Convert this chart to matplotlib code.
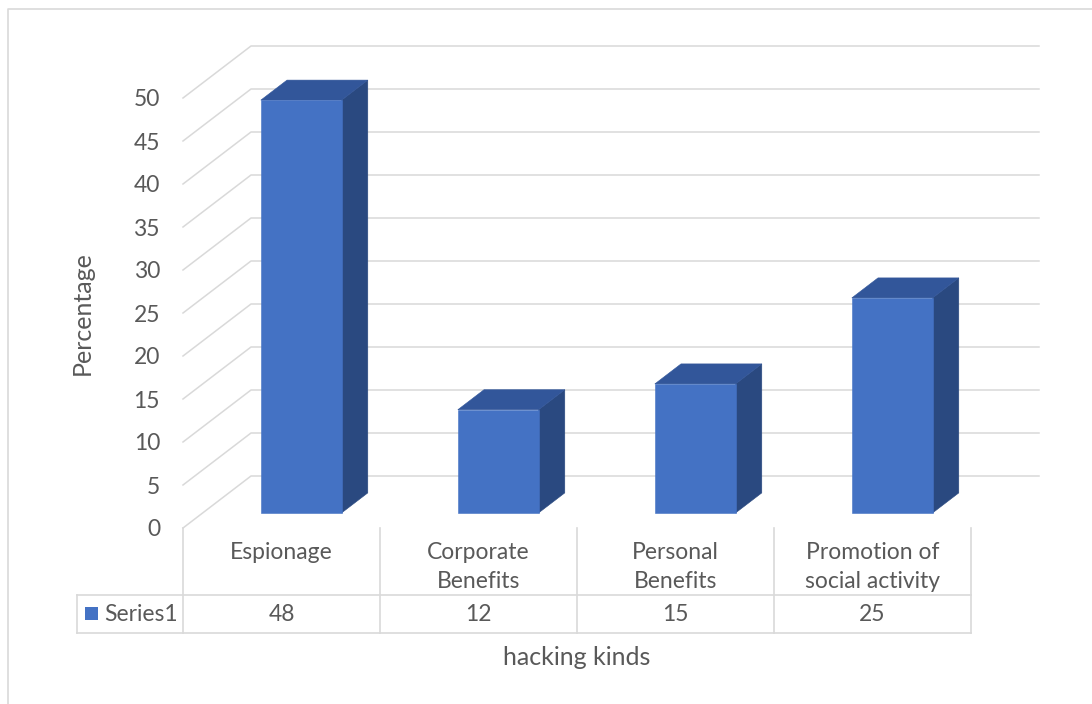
import matplotlib
matplotlib.use("Agg")
import matplotlib.pyplot as plt
from matplotlib.transforms import Affine2D, IdentityTransform, blended_transform_factory
from matplotlib.patches import Polygon, Rectangle
from matplotlib.lines import Line2D

# ---- data -------------------------------------------------------------
categories = ["Espionage", "Corporate\nBenefits", "Personal\nBenefits",
              "Promotion of\nsocial activity"]
values = [48, 12, 15, 25]
series_name = "Series1"
y_ticks = [0, 5, 10, 15, 20, 25, 30, 35, 40, 45, 50]
x_title = "hacking kinds"
y_title = "Percentage"

# ---- style ------------------------------------------------------------
FRONT = "#4472C4"
SIDE = "#2A4980"
TOP = "#32569A"
GRID = "#D9D9D9"
TEXT = "#595959"
FONT = "Lato"
FS = 16.5        # tick and table labels
FS_TITLE = 18    # axis titles

W, H, DPI = 1092, 704, 100
fig = plt.figure(figsize=(W / DPI, H / DPI), dpi=DPI)
fig.patch.set_facecolor("white")

# front plane of the plot area (pixel positions measured from the top-left)
left, right, base, top = 183, 971, 528, 98
ax = fig.add_axes([left / W, 1 - base / H, (right - left) / W, (base - top) / H])
ax.set_xlim(0, len(categories))
ax.set_ylim(y_ticks[0], y_ticks[-1])
ax.axis("off")

DEPTH = (68, 52)          # display offset from the front plane to the back wall
ident = IdentityTransform()
px = Affine2D().scale(1, -1).translate(0, H)   # pixel coords, origin top-left
x_px = blended_transform_factory(ax.transData, px)


def proj(x, y, d):
    """Project (category x, value y, depth d in 0..1) to display coords."""
    sx, sy = ax.transData.transform((x, y))
    return sx + DEPTH[0] * d, sy + DEPTH[1] * d


# chart outline
fig.add_artist(Line2D([8, 8, W], [H, 9, 9], transform=px, color=GRID, lw=1.2))

# walls: side-wall diagonals and back-wall gridlines, plus value labels
n = len(categories)
for v in y_ticks:
    p0, p1, p2 = proj(0, v, 0), proj(0, v, 1), proj(n, v, 1)
    fig.add_artist(Line2D([p0[0], p1[0], p2[0]], [p0[1], p1[1], p2[1]],
                          transform=ident, color=GRID, lw=1.1, zorder=1))
    fig.text(p0[0] - 23, p0[1] - 8.5, str(v), transform=ident, ha="right",
             va="baseline", fontsize=FS, color=TEXT, family=FONT)

# 3-D columns
d0, d1 = 0.29, 0.675
bw = 0.41
for i, v in enumerate(values):
    xa, xb = i + 0.5 - bw / 2, i + 0.5 + bw / 2
    side = [proj(xb, 0, d0), proj(xb, 0, d1), proj(xb, v, d1), proj(xb, v, d0)]
    cap = [proj(xa, v, d0), proj(xb, v, d0), proj(xb, v, d1), proj(xa, v, d1)]
    front = [proj(xa, 0, d0), proj(xb, 0, d0), proj(xb, v, d0), proj(xa, v, d0)]
    for pts, col in ((side, SIDE), (cap, TOP), (front, FRONT)):
        fig.add_artist(Polygon(pts, closed=True, transform=ident, facecolor=col,
                               edgecolor=col, lw=0.4, zorder=3))

# data table
row1, row2, row3 = 528, 595, 633
tab_left = 77
for k in range(n + 1):
    fig.add_artist(Line2D([k, k], [row1, row3], transform=x_px, color=GRID, lw=1.2))
x_end = ax.transData.transform((n, 0))[0]
for r in (row2, row3):
    fig.add_artist(Line2D([tab_left, x_end], [H - r, H - r], transform=ident,
                          color=GRID, lw=1.2))
fig.add_artist(Line2D([tab_left, tab_left], [row2, row3], transform=px, color=GRID, lw=1.2))

for i, (cat, v) in enumerate(zip(categories, values)):
    for j, line in enumerate(cat.split("\n")):
        fig.text(i + 0.5, 559 + 29 * j, line, transform=x_px, ha="center",
                 va="baseline", fontsize=FS, color=TEXT, family=FONT)
    fig.text(i + 0.5, 621, str(v), transform=x_px, ha="center", va="baseline",
             fontsize=FS, color=TEXT, family=FONT)

fig.add_artist(Rectangle((85, 607), 13, 13, transform=px, facecolor=FRONT, edgecolor="none"))
fig.text(104, 621, series_name, transform=px, ha="left", va="baseline",
         fontsize=FS, color=TEXT, family=FONT)

# axis titles
fig.text(n / 2, 665, x_title, transform=x_px, ha="center", va="baseline",
         fontsize=FS_TITLE, color=TEXT, family=FONT)
fig.text(82, 313, y_title, transform=px, ha="center", va="center", rotation=90,
         fontsize=FS_TITLE, color=TEXT, family=FONT)

fig.savefig("out.png", dpi=DPI, facecolor="white")
